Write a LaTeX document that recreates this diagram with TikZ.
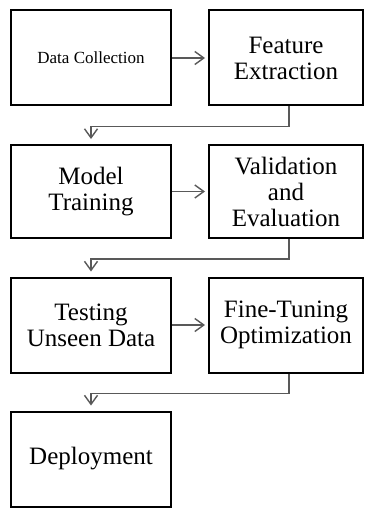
\documentclass[tikz,border=0pt]{standalone}
\usepackage{fontspec}
\setmainfont{Liberation Serif}
\usetikzlibrary{arrows.meta}

\begin{document}
\begin{tikzpicture}[x=1pt, y=1pt, every text node part/.style={align=center},
    box/.style={draw, line width=2pt, minimum width=160pt, minimum height=95pt, inner sep=0pt,
        font=\fontsize{25}{26}\selectfont},
    conn/.style={draw=black!65, line width=1.4pt, -{Straight Barb[length=9pt,width=13pt]}, shorten >=5pt}]
            \useasboundingbox (0,0) rectangle (366,-508);

            \node[box] (1) at(91,-58) {\fontsize{17}{20}\selectfont Data Collection};
            \node[box, minimum width=154pt] (2) at(286,-58) {Feature\\Extraction};
            \node[box, minimum height=93pt] (3) at(91,-191.5) {Model\\Training};
            \node[box, minimum width=154pt, minimum height=93pt] (4) at(286,-191.5) {Validation\\and\\Evaluation};
            \node[box] (5) at(91,-325) {Testing\\Unseen Data};
            \node[box, minimum width=154pt] (6) at(286,-325) {Fine-Tuning\\Optimization};
            \node[box] (7) at(91,-459) {Deployment};

            \draw[conn, shorten >=3pt] (1) -- (2);
            \draw[conn] ([xshift=3pt]2.south) -- ++(0,-20) -| (3.north);
            \draw[conn, shorten >=3pt] (3) -- (4);
            \draw[conn] ([xshift=3pt]4.south) -- ++(0,-20) -| (5.north);
            \draw[conn, shorten >=3pt] (5) -- (6);
            \draw[conn] ([xshift=3pt]6.south) -- ++(0,-20) -| (7.north);

        \end{tikzpicture}
\end{document}
